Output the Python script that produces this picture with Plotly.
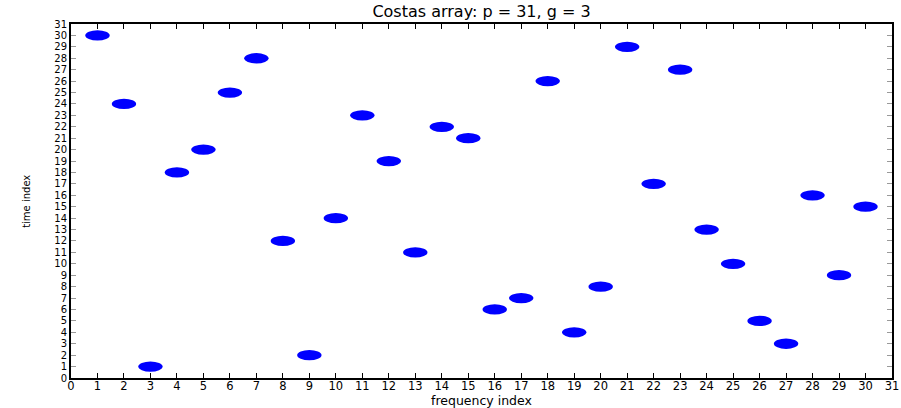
import plotly.graph_objects as go

freq_index = list(range(1, 31))
time_index = [30, 24, 1, 18, 20, 25, 28, 12, 2, 14, 23, 19, 11, 22, 21,
              6, 7, 26, 4, 8, 29, 17, 27, 13, 10, 5, 3, 16, 9, 15]
tick_vals = list(range(0, 32))
tick_text = [str(v) for v in tick_vals]

title_text = "Costas array: p = 31, g = 3"
x_title = "frequency index"
y_title = "time index"

fig = go.Figure()
fig.add_trace(go.Scatter(x=freq_index, y=time_index, mode="markers",
                         marker=dict(size=20, color="rgba(0,0,255,0)"),
                         hoverinfo="x+y", showlegend=False))

rx, ry = 0.46, 0.45
shapes = []
for xv, yv in zip(freq_index, time_index):
    shapes.append(dict(type="circle", xref="x", yref="y",
                       x0=xv - rx, x1=xv + rx, y0=yv - ry, y1=yv + ry,
                       fillcolor="#0000ff", line=dict(width=0), layer="above"))

font_family = "DejaVu Sans, Liberation Sans, Arial, sans-serif"
fig.update_layout(
    width=901, height=408,
    margin=dict(l=71, r=9, t=24, b=30),
    paper_bgcolor="white", plot_bgcolor="white",
    shapes=shapes,
    title=dict(text=title_text, xref="paper", x=0.5, xanchor="center",
               yref="container", y=0.972, yanchor="middle",
               font=dict(family=font_family, size=16, color="black")),
    xaxis=dict(range=[0, 31], tickmode="array", tickvals=tick_vals, ticktext=tick_text,
               ticks="inside", ticklen=5, tickwidth=1, tickcolor="black",
               showline=True, linecolor="black", linewidth=2, mirror="ticks",
               showgrid=False, zeroline=False, automargin=False,
               ticklabeloverflow="allow", ticklabelstandoff=-4,
               tickfont=dict(family=font_family, size=11.5, color="black")),
    yaxis=dict(range=[0, 31], tickmode="array", tickvals=tick_vals, ticktext=tick_text,
               ticks="inside", ticklen=5, tickwidth=1, tickcolor="#999999",
               showline=True, linecolor="black", linewidth=2, mirror="ticks",
               showgrid=False, zeroline=False, automargin=False,
               ticklabeloverflow="allow",
               tickfont=dict(family=font_family, size=10, color="black")),
    annotations=[
        dict(text=x_title, xref="paper", yref="paper", x=0.5, y=-0.063,
             xanchor="center", yanchor="middle", showarrow=False, borderpad=0,
             font=dict(family=font_family, size=12.5, color="black")),
        dict(text=y_title, xref="paper", yref="paper", x=-0.055, y=0.5,
             xanchor="center", yanchor="middle", showarrow=False, textangle=-90,
             borderpad=0,
             font=dict(family=font_family, size=10, color="black")),
    ],
)

fig.write_html("out.html")
